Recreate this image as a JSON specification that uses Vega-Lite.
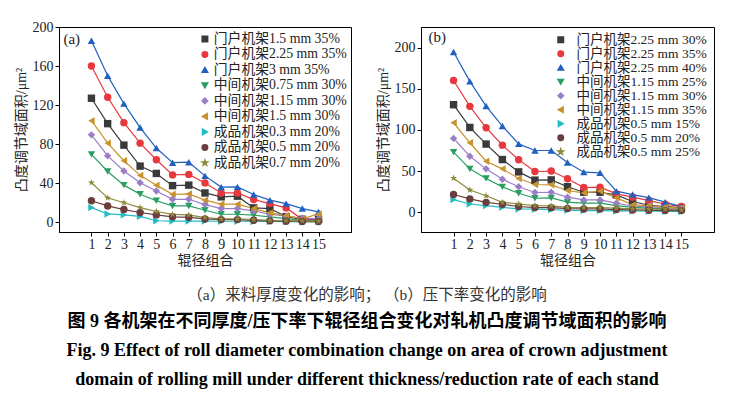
{
  "$schema": "https://vega.github.io/schema/vega-lite/v6.json",
  "background": "white",
  "padding": {"left": 13, "top": 19, "right": 0, "bottom": 0},
  "datasets": {
    "a": [
      {"s":"门户机架1.5 mm 35%","x":1,"y":127},{"s":"门户机架1.5 mm 35%","x":2,"y":101},{"s":"门户机架1.5 mm 35%","x":3,"y":79},{"s":"门户机架1.5 mm 35%","x":4,"y":57.5},{"s":"门户机架1.5 mm 35%","x":5,"y":50},{"s":"门户机架1.5 mm 35%","x":6,"y":37.5},{"s":"门户机架1.5 mm 35%","x":7,"y":38},{"s":"门户机架1.5 mm 35%","x":8,"y":30},{"s":"门户机架1.5 mm 35%","x":9,"y":26},{"s":"门户机架1.5 mm 35%","x":10,"y":26.7},{"s":"门户机架1.5 mm 35%","x":11,"y":14.7},{"s":"门户机架1.5 mm 35%","x":12,"y":14},{"s":"门户机架1.5 mm 35%","x":13,"y":5.8},{"s":"门户机架1.5 mm 35%","x":14,"y":3},{"s":"门户机架1.5 mm 35%","x":15,"y":3},
      {"s":"门户机架2.25 mm 35%","x":1,"y":160},{"s":"门户机架2.25 mm 35%","x":2,"y":128},{"s":"门户机架2.25 mm 35%","x":3,"y":102},{"s":"门户机架2.25 mm 35%","x":4,"y":81},{"s":"门户机架2.25 mm 35%","x":5,"y":64},{"s":"门户机架2.25 mm 35%","x":6,"y":48.5},{"s":"门户机架2.25 mm 35%","x":7,"y":49},{"s":"门户机架2.25 mm 35%","x":8,"y":40.3},{"s":"门户机架2.25 mm 35%","x":9,"y":30},{"s":"门户机架2.25 mm 35%","x":10,"y":30},{"s":"门户机架2.25 mm 35%","x":11,"y":23.2},{"s":"门户机架2.25 mm 35%","x":12,"y":19.1},{"s":"门户机架2.25 mm 35%","x":13,"y":14.7},{"s":"门户机架2.25 mm 35%","x":14,"y":3},{"s":"门户机架2.25 mm 35%","x":15,"y":2},
      {"s":"门户机架3 mm 35%","x":1,"y":186},{"s":"门户机架3 mm 35%","x":2,"y":150},{"s":"门户机架3 mm 35%","x":3,"y":121.5},{"s":"门户机架3 mm 35%","x":4,"y":97},{"s":"门户机架3 mm 35%","x":5,"y":76},{"s":"门户机架3 mm 35%","x":6,"y":61},{"s":"门户机架3 mm 35%","x":7,"y":61.5},{"s":"门户机架3 mm 35%","x":8,"y":47.5},{"s":"门户机架3 mm 35%","x":9,"y":36},{"s":"门户机架3 mm 35%","x":10,"y":36.2},{"s":"门户机架3 mm 35%","x":11,"y":28.4},{"s":"门户机架3 mm 35%","x":12,"y":22.6},{"s":"门户机架3 mm 35%","x":13,"y":19.1},{"s":"门户机架3 mm 35%","x":14,"y":14},{"s":"门户机架3 mm 35%","x":15,"y":10.6},
      {"s":"中间机架0.75 mm 30%","x":1,"y":69.5},{"s":"中间机架0.75 mm 30%","x":2,"y":52},{"s":"中间机架0.75 mm 30%","x":3,"y":38},{"s":"中间机架0.75 mm 30%","x":4,"y":28.6},{"s":"中间机架0.75 mm 30%","x":5,"y":22},{"s":"中间机架0.75 mm 30%","x":6,"y":16.7},{"s":"中间机架0.75 mm 30%","x":7,"y":16.7},{"s":"中间机架0.75 mm 30%","x":8,"y":12.3},{"s":"中间机架0.75 mm 30%","x":9,"y":8.2},{"s":"中间机架0.75 mm 30%","x":10,"y":8.2},{"s":"中间机架0.75 mm 30%","x":11,"y":7.2},{"s":"中间机架0.75 mm 30%","x":12,"y":5.5},{"s":"中间机架0.75 mm 30%","x":13,"y":3.8},{"s":"中间机架0.75 mm 30%","x":14,"y":2},{"s":"中间机架0.75 mm 30%","x":15,"y":1.4},
      {"s":"中间机架1.15 mm 30%","x":1,"y":89.5},{"s":"中间机架1.15 mm 30%","x":2,"y":68},{"s":"中间机架1.15 mm 30%","x":3,"y":52.5},{"s":"中间机架1.15 mm 30%","x":4,"y":40.5},{"s":"中间机架1.15 mm 30%","x":5,"y":32},{"s":"中间机架1.15 mm 30%","x":6,"y":23.5},{"s":"中间机架1.15 mm 30%","x":7,"y":23.5},{"s":"中间机架1.15 mm 30%","x":8,"y":18.1},{"s":"中间机架1.15 mm 30%","x":9,"y":14},{"s":"中间机架1.15 mm 30%","x":10,"y":14},{"s":"中间机架1.15 mm 30%","x":11,"y":11.6},{"s":"中间机架1.15 mm 30%","x":12,"y":8.2},{"s":"中间机架1.15 mm 30%","x":13,"y":6.2},{"s":"中间机架1.15 mm 30%","x":14,"y":4.1},{"s":"中间机架1.15 mm 30%","x":15,"y":3.4},
      {"s":"中间机架1.5 mm 30%","x":1,"y":104},{"s":"中间机架1.5 mm 30%","x":2,"y":81},{"s":"中间机架1.5 mm 30%","x":3,"y":63},{"s":"中间机架1.5 mm 30%","x":4,"y":48},{"s":"中间机架1.5 mm 30%","x":5,"y":38},{"s":"中间机架1.5 mm 30%","x":6,"y":28.6},{"s":"中间机架1.5 mm 30%","x":7,"y":29},{"s":"中间机架1.5 mm 30%","x":8,"y":22.6},{"s":"中间机架1.5 mm 30%","x":9,"y":18.5},{"s":"中间机架1.5 mm 30%","x":10,"y":18.5},{"s":"中间机架1.5 mm 30%","x":11,"y":14},{"s":"中间机架1.5 mm 30%","x":12,"y":9.6},{"s":"中间机架1.5 mm 30%","x":13,"y":6.8},{"s":"中间机架1.5 mm 30%","x":14,"y":3.4},{"s":"中间机架1.5 mm 30%","x":15,"y":8.5},
      {"s":"成品机架0.3 mm 20%","x":1,"y":15},{"s":"成品机架0.3 mm 20%","x":2,"y":8.5},{"s":"成品机架0.3 mm 20%","x":3,"y":7.5},{"s":"成品机架0.3 mm 20%","x":4,"y":6},{"s":"成品机架0.3 mm 20%","x":5,"y":1.5},{"s":"成品机架0.3 mm 20%","x":6,"y":1.2},{"s":"成品机架0.3 mm 20%","x":7,"y":1.2},{"s":"成品机架0.3 mm 20%","x":8,"y":1.2},{"s":"成品机架0.3 mm 20%","x":9,"y":1},{"s":"成品机架0.3 mm 20%","x":10,"y":1},{"s":"成品机架0.3 mm 20%","x":11,"y":0.8},{"s":"成品机架0.3 mm 20%","x":12,"y":0.8},{"s":"成品机架0.3 mm 20%","x":13,"y":0.6},{"s":"成品机架0.3 mm 20%","x":14,"y":0.5},{"s":"成品机架0.3 mm 20%","x":15,"y":0.5},
      {"s":"成品机架0.5 mm 20%","x":1,"y":22},{"s":"成品机架0.5 mm 20%","x":2,"y":16.7},{"s":"成品机架0.5 mm 20%","x":3,"y":13},{"s":"成品机架0.5 mm 20%","x":4,"y":10},{"s":"成品机架0.5 mm 20%","x":5,"y":7.5},{"s":"成品机架0.5 mm 20%","x":6,"y":5.5},{"s":"成品机架0.5 mm 20%","x":7,"y":5},{"s":"成品机架0.5 mm 20%","x":8,"y":3.4},{"s":"成品机架0.5 mm 20%","x":9,"y":2.7},{"s":"成品机架0.5 mm 20%","x":10,"y":2.7},{"s":"成品机架0.5 mm 20%","x":11,"y":2},{"s":"成品机架0.5 mm 20%","x":12,"y":1.4},{"s":"成品机架0.5 mm 20%","x":13,"y":1},{"s":"成品机架0.5 mm 20%","x":14,"y":0.7},{"s":"成品机架0.5 mm 20%","x":15,"y":0.7},
      {"s":"成品机架0.7 mm 20%","x":1,"y":40.5},{"s":"成品机架0.7 mm 20%","x":2,"y":25},{"s":"成品机架0.7 mm 20%","x":3,"y":20},{"s":"成品机架0.7 mm 20%","x":4,"y":15},{"s":"成品机架0.7 mm 20%","x":5,"y":11},{"s":"成品机架0.7 mm 20%","x":6,"y":8},{"s":"成品机架0.7 mm 20%","x":7,"y":7.5},{"s":"成品机架0.7 mm 20%","x":8,"y":4.8},{"s":"成品机架0.7 mm 20%","x":9,"y":3.4},{"s":"成品机架0.7 mm 20%","x":10,"y":3.4},{"s":"成品机架0.7 mm 20%","x":11,"y":2.7},{"s":"成品机架0.7 mm 20%","x":12,"y":2},{"s":"成品机架0.7 mm 20%","x":13,"y":1.7},{"s":"成品机架0.7 mm 20%","x":14,"y":1.4},{"s":"成品机架0.7 mm 20%","x":15,"y":1}
    ],
    "b": [
      {"s":"门户机架2.25 mm 30%","x":1,"y":130.6},{"s":"门户机架2.25 mm 30%","x":2,"y":103},{"s":"门户机架2.25 mm 30%","x":3,"y":82.8},{"s":"门户机架2.25 mm 30%","x":4,"y":64},{"s":"门户机架2.25 mm 30%","x":5,"y":49},{"s":"门户机架2.25 mm 30%","x":6,"y":39},{"s":"门户机架2.25 mm 30%","x":7,"y":39.3},{"s":"门户机架2.25 mm 30%","x":8,"y":31},{"s":"门户机架2.25 mm 30%","x":9,"y":24.3},{"s":"门户机架2.25 mm 30%","x":10,"y":24.3},{"s":"门户机架2.25 mm 30%","x":11,"y":21},{"s":"门户机架2.25 mm 30%","x":12,"y":13},{"s":"门户机架2.25 mm 30%","x":13,"y":8.5},{"s":"门户机架2.25 mm 30%","x":14,"y":7},{"s":"门户机架2.25 mm 30%","x":15,"y":5.7},
      {"s":"门户机架2.25 mm 35%","x":1,"y":160},{"s":"门户机架2.25 mm 35%","x":2,"y":128.6},{"s":"门户机架2.25 mm 35%","x":3,"y":102.6},{"s":"门户机架2.25 mm 35%","x":4,"y":81.5},{"s":"门户机架2.25 mm 35%","x":5,"y":63.7},{"s":"门户机架2.25 mm 35%","x":6,"y":49.5},{"s":"门户机架2.25 mm 35%","x":7,"y":50},{"s":"门户机架2.25 mm 35%","x":8,"y":40.6},{"s":"门户机架2.25 mm 35%","x":9,"y":30},{"s":"门户机架2.25 mm 35%","x":10,"y":30.4},{"s":"门户机架2.25 mm 35%","x":11,"y":22.3},{"s":"门户机架2.25 mm 35%","x":12,"y":18.3},{"s":"门户机架2.25 mm 35%","x":13,"y":14.2},{"s":"门户机架2.25 mm 35%","x":14,"y":9.7},{"s":"门户机架2.25 mm 35%","x":15,"y":6.9},
      {"s":"门户机架2.25 mm 40%","x":1,"y":194.7},{"s":"门户机架2.25 mm 40%","x":2,"y":159},{"s":"门户机架2.25 mm 40%","x":3,"y":129},{"s":"门户机架2.25 mm 40%","x":4,"y":104.7},{"s":"门户机架2.25 mm 40%","x":5,"y":83},{"s":"门户机架2.25 mm 40%","x":6,"y":75},{"s":"门户机架2.25 mm 40%","x":7,"y":75},{"s":"门户机架2.25 mm 40%","x":8,"y":60.4},{"s":"门户机架2.25 mm 40%","x":9,"y":48.7},{"s":"门户机架2.25 mm 40%","x":10,"y":47.9},{"s":"门户机架2.25 mm 40%","x":11,"y":25.6},{"s":"门户机架2.25 mm 40%","x":12,"y":21.5},{"s":"门户机架2.25 mm 40%","x":13,"y":17.8},{"s":"门户机架2.25 mm 40%","x":14,"y":12.2},{"s":"门户机架2.25 mm 40%","x":15,"y":6.9},
      {"s":"中间机架1.15 mm 25%","x":1,"y":73},{"s":"中间机架1.15 mm 25%","x":2,"y":52.7},{"s":"中间机架1.15 mm 25%","x":3,"y":41},{"s":"中间机架1.15 mm 25%","x":4,"y":30.8},{"s":"中间机架1.15 mm 25%","x":5,"y":23},{"s":"中间机架1.15 mm 25%","x":6,"y":17},{"s":"中间机架1.15 mm 25%","x":7,"y":17.4},{"s":"中间机架1.15 mm 25%","x":8,"y":12.2},{"s":"中间机架1.15 mm 25%","x":9,"y":11},{"s":"中间机架1.15 mm 25%","x":10,"y":11},{"s":"中间机架1.15 mm 25%","x":11,"y":8.1},{"s":"中间机架1.15 mm 25%","x":12,"y":6},{"s":"中间机架1.15 mm 25%","x":13,"y":4.9},{"s":"中间机架1.15 mm 25%","x":14,"y":4},{"s":"中间机架1.15 mm 25%","x":15,"y":3.2},
      {"s":"中间机架1.15 mm 30%","x":1,"y":89.7},{"s":"中间机架1.15 mm 30%","x":2,"y":68},{"s":"中间机架1.15 mm 30%","x":3,"y":52.7},{"s":"中间机架1.15 mm 30%","x":4,"y":40},{"s":"中间机架1.15 mm 30%","x":5,"y":31},{"s":"中间机架1.15 mm 30%","x":6,"y":24},{"s":"中间机架1.15 mm 30%","x":7,"y":24.3},{"s":"中间机架1.15 mm 30%","x":8,"y":18.3},{"s":"中间机架1.15 mm 30%","x":9,"y":15},{"s":"中间机架1.15 mm 30%","x":10,"y":15},{"s":"中间机架1.15 mm 30%","x":11,"y":11},{"s":"中间机架1.15 mm 30%","x":12,"y":7.3},{"s":"中间机架1.15 mm 30%","x":13,"y":6.9},{"s":"中间机架1.15 mm 30%","x":14,"y":5.3},{"s":"中间机架1.15 mm 30%","x":15,"y":4.5},
      {"s":"中间机架1.15 mm 35%","x":1,"y":108.7},{"s":"中间机架1.15 mm 35%","x":2,"y":84.4},{"s":"中间机架1.15 mm 35%","x":3,"y":62},{"s":"中间机架1.15 mm 35%","x":4,"y":52.7},{"s":"中间机架1.15 mm 35%","x":5,"y":41},{"s":"中间机架1.15 mm 35%","x":6,"y":33.7},{"s":"中间机架1.15 mm 35%","x":7,"y":33.3},{"s":"中间机架1.15 mm 35%","x":8,"y":26.4},{"s":"中间机架1.15 mm 35%","x":9,"y":23.5},{"s":"中间机架1.15 mm 35%","x":10,"y":25.6},{"s":"中间机架1.15 mm 35%","x":11,"y":17.4},{"s":"中间机架1.15 mm 35%","x":12,"y":8.9},{"s":"中间机架1.15 mm 35%","x":13,"y":8.1},{"s":"中间机架1.15 mm 35%","x":14,"y":6},{"s":"中间机架1.15 mm 35%","x":15,"y":4.9},
      {"s":"成品机架0.5 mm 15%","x":1,"y":15.4},{"s":"成品机架0.5 mm 15%","x":2,"y":10},{"s":"成品机架0.5 mm 15%","x":3,"y":8},{"s":"成品机架0.5 mm 15%","x":4,"y":6},{"s":"成品机架0.5 mm 15%","x":5,"y":4},{"s":"成品机架0.5 mm 15%","x":6,"y":3.7},{"s":"成品机架0.5 mm 15%","x":7,"y":3.2},{"s":"成品机架0.5 mm 15%","x":8,"y":2.4},{"s":"成品机架0.5 mm 15%","x":9,"y":2},{"s":"成品机架0.5 mm 15%","x":10,"y":2},{"s":"成品机架0.5 mm 15%","x":11,"y":1.6},{"s":"成品机架0.5 mm 15%","x":12,"y":1.6},{"s":"成品机架0.5 mm 15%","x":13,"y":1.2},{"s":"成品机架0.5 mm 15%","x":14,"y":1.2},{"s":"成品机架0.5 mm 15%","x":15,"y":0.8},
      {"s":"成品机架0.5 mm 20%","x":1,"y":21.5},{"s":"成品机架0.5 mm 20%","x":2,"y":16.2},{"s":"成品机架0.5 mm 20%","x":3,"y":12},{"s":"成品机架0.5 mm 20%","x":4,"y":9.7},{"s":"成品机架0.5 mm 20%","x":5,"y":7},{"s":"成品机架0.5 mm 20%","x":6,"y":5.7},{"s":"成品机架0.5 mm 20%","x":7,"y":5.5},{"s":"成品机架0.5 mm 20%","x":8,"y":4.5},{"s":"成品机架0.5 mm 20%","x":9,"y":4},{"s":"成品机架0.5 mm 20%","x":10,"y":4},{"s":"成品机架0.5 mm 20%","x":11,"y":3.2},{"s":"成品机架0.5 mm 20%","x":12,"y":2.8},{"s":"成品机架0.5 mm 20%","x":13,"y":2.4},{"s":"成品机架0.5 mm 20%","x":14,"y":2},{"s":"成品机架0.5 mm 20%","x":15,"y":2},
      {"s":"成品机架0.5 mm 25%","x":1,"y":41.4},{"s":"成品机架0.5 mm 25%","x":2,"y":27},{"s":"成品机架0.5 mm 25%","x":3,"y":20},{"s":"成品机架0.5 mm 25%","x":4,"y":12},{"s":"成品机架0.5 mm 25%","x":5,"y":10},{"s":"成品机架0.5 mm 25%","x":6,"y":8},{"s":"成品机架0.5 mm 25%","x":7,"y":7.7},{"s":"成品机架0.5 mm 25%","x":8,"y":6},{"s":"成品机架0.5 mm 25%","x":9,"y":5.7},{"s":"成品机架0.5 mm 25%","x":10,"y":5.7},{"s":"成品机架0.5 mm 25%","x":11,"y":4.9},{"s":"成品机架0.5 mm 25%","x":12,"y":4},{"s":"成品机架0.5 mm 25%","x":13,"y":3.7},{"s":"成品机架0.5 mm 25%","x":14,"y":3.5},{"s":"成品机架0.5 mm 25%","x":15,"y":2.8}
    ]
  },
  "title": {
    "text": "（a）来料厚度变化的影响；    （b）压下率变化的影响",
    "orient": "bottom",
    "anchor": "middle",
    "dx": 3,
    "offset": 20,
    "font": "Liberation Serif, Noto Sans CJK SC",
    "fontSize": 15.5,
    "fontWeight": "normal",
    "color": "#333",
    "subtitle": [
      "图 9   各机架在不同厚度/压下率下辊径组合变化对轧机凸度调节域面积的影响",
      "Fig. 9   Effect of roll diameter combination change on area of crown adjustment",
      "domain of rolling mill under different thickness/reduction rate of each stand"
    ],
    "subtitleFont": "Liberation Serif, Noto Sans CJK SC",
    "subtitleFontSize": 18,
    "subtitleFontWeight": "bold",
    "subtitleColor": "#000",
    "subtitleLineHeight": 29,
    "subtitlePadding": 10
  },
  "hconcat": [
    {
      "width": 292,
      "height": 205,
      "layer": [
        {
          "data": {"name": "a"},
          "mark": {"type": "line", "strokeWidth": 1.2, "point": {"filled": true, "size": 55, "opacity": 1}},
          "encoding": {
            "x": {"field": "x", "type": "ordinal", "scale": {"type": "point", "padding": 0, "domain": [-1,0,1,2,3,4,5,6,7,8,9,10,11,12,13,14,15,16,17]}, "axis": {"title": "辊径组合", "labelAngle": 0, "values": [1,2,3,4,5,6,7,8,9,10,11,12,13,14,15]}},
            "y": {"field": "y", "type": "quantitative", "scale": {"domain": [-10, 200], "nice": false, "zero": false}, "axis": {"values": [0,40,80,120,160,200], "title": "凸度调节域面积/μm²"}},
            "color": {"field": "s", "type": "nominal", "sort": null,
              "scale": {"domain": ["门户机架1.5 mm 35%","门户机架2.25 mm 35%","门户机架3 mm 35%","中间机架0.75 mm 30%","中间机架1.15 mm 30%","中间机架1.5 mm 30%","成品机架0.3 mm 20%","成品机架0.5 mm 20%","成品机架0.7 mm 20%"],
                "range": ["#3a3a3a","#e8383d","#2060c0","#2a9e62","#9b7ec8","#c8922c","#22bcc4","#6a3e3e","#8c8a3a"]},
              "legend": {"title": null, "orient": "none", "legendX": 139, "legendY": 5, "rowPadding": 0.5, "labelFontSize": 13.8, "labelOffset": 2}},
            "shape": {"field": "s", "type": "nominal", "sort": null,
              "scale": {"domain": ["门户机架1.5 mm 35%","门户机架2.25 mm 35%","门户机架3 mm 35%","中间机架0.75 mm 30%","中间机架1.15 mm 30%","中间机架1.5 mm 30%","成品机架0.3 mm 20%","成品机架0.5 mm 20%","成品机架0.7 mm 20%"],
                "range": ["square","circle","triangle-up","triangle-down","diamond","triangle-left","triangle-right","circle","M0,-1L0.2245,-0.309L0.951,-0.309L0.363,0.118L0.588,0.809L0,0.382L-0.588,0.809L-0.363,0.118L-0.951,-0.309L-0.2245,-0.309Z"]},
              "legend": {"title": null, "orient": "none", "legendX": 139, "legendY": 5, "rowPadding": 0.5, "labelFontSize": 13.8, "labelOffset": 2}}
          }
        },
        {
          "data": {"values": [{"t": "(a)", "px": 1, "py": 200}]},
          "mark": {"type": "text", "align": "left", "baseline": "middle", "font": "Liberation Serif", "fontSize": 15, "color": "#222", "dx": -28, "dy": 12},
          "encoding": {"text": {"field": "t"}, "x": {"field": "px", "type": "ordinal"}, "y": {"field": "py", "type": "quantitative"}}
        }
      ]
    },
    {
      "width": 293,
      "height": 205,
      "layer": [
        {
          "data": {"name": "b"},
          "mark": {"type": "line", "strokeWidth": 1.2, "point": {"filled": true, "size": 55, "opacity": 1}},
          "encoding": {
            "x": {"field": "x", "type": "ordinal", "scale": {"type": "point", "padding": 0, "domain": [-1,0,1,2,3,4,5,6,7,8,9,10,11,12,13,14,15,16,17]}, "axis": {"title": "辊径组合", "labelAngle": 0, "values": [1,2,3,4,5,6,7,8,9,10,11,12,13,14,15]}},
            "y": {"field": "y", "type": "quantitative", "scale": {"domain": [-24, 225], "nice": false, "zero": false}, "axis": {"values": [0,50,100,150,200], "title": "凸度调节域面积/μm²"}},
            "color": {"field": "s", "type": "nominal", "sort": null,
              "scale": {"domain": ["门户机架2.25 mm 30%","门户机架2.25 mm 35%","门户机架2.25 mm 40%","中间机架1.15 mm 25%","中间机架1.15 mm 30%","中间机架1.15 mm 35%","成品机架0.5 mm 15%","成品机架0.5 mm 20%","成品机架0.5 mm 25%"],
                "range": ["#3a3a3a","#e8383d","#2060c0","#2a9e62","#9b7ec8","#c8922c","#22bcc4","#6a3e3e","#8c8a3a"]},
              "legend": {"title": null, "orient": "none", "legendX": 133, "legendY": 6, "rowPadding": -2.5, "labelFontSize": 13.5, "labelOffset": 9}},
            "shape": {"field": "s", "type": "nominal", "sort": null,
              "scale": {"domain": ["门户机架2.25 mm 30%","门户机架2.25 mm 35%","门户机架2.25 mm 40%","中间机架1.15 mm 25%","中间机架1.15 mm 30%","中间机架1.15 mm 35%","成品机架0.5 mm 15%","成品机架0.5 mm 20%","成品机架0.5 mm 25%"],
                "range": ["square","circle","triangle-up","triangle-down","diamond","triangle-left","triangle-right","circle","M0,-1L0.2245,-0.309L0.951,-0.309L0.363,0.118L0.588,0.809L0,0.382L-0.588,0.809L-0.363,0.118L-0.951,-0.309L-0.2245,-0.309Z"]},
              "legend": {"title": null, "orient": "none", "legendX": 133, "legendY": 6, "rowPadding": -2.5, "labelFontSize": 13.5, "labelOffset": 9}}
          }
        },
        {
          "data": {"values": [{"t": "(b)", "px": 1, "py": 225}]},
          "mark": {"type": "text", "align": "left", "baseline": "middle", "font": "Liberation Serif", "fontSize": 15, "color": "#222", "dx": -25, "dy": 10},
          "encoding": {"text": {"field": "t"}, "x": {"field": "px", "type": "ordinal"}, "y": {"field": "py", "type": "quantitative"}}
        }
      ]
    }
  ],
  "spacing": 23,
  "resolve": {"scale": {"color": "independent", "shape": "independent", "x": "independent", "y": "independent"}, "legend": {"color": "independent", "shape": "independent"}},
  "config": {
    "font": "Liberation Serif, Noto Sans CJK SC",
    "view": {"stroke": "#000", "strokeWidth": 1},
    "axis": {
      "grid": false,
      "labelFont": "Liberation Serif",
      "labelFontSize": 14,
      "labelColor": "#222",
      "titleFont": "Liberation Serif, Noto Sans CJK SC",
      "titleFontSize": 14,
      "titleFontWeight": "normal",
      "titleColor": "#222",
      "domainColor": "#000",
      "tickColor": "#000",
      "tickSize": 4
    },
    "axisX": {"labelPadding": 1, "titlePadding": 2, "labelAngle": 0},
    "axisY": {"labelPadding": 2, "titlePadding": 4},
    "legend": {
      "padding": 0,
      "symbolSize": 30,
      "labelFont": "Liberation Serif, Noto Sans CJK SC",
      "labelColor": "#222",
      "labelLimit": 300
    }
  }
}
